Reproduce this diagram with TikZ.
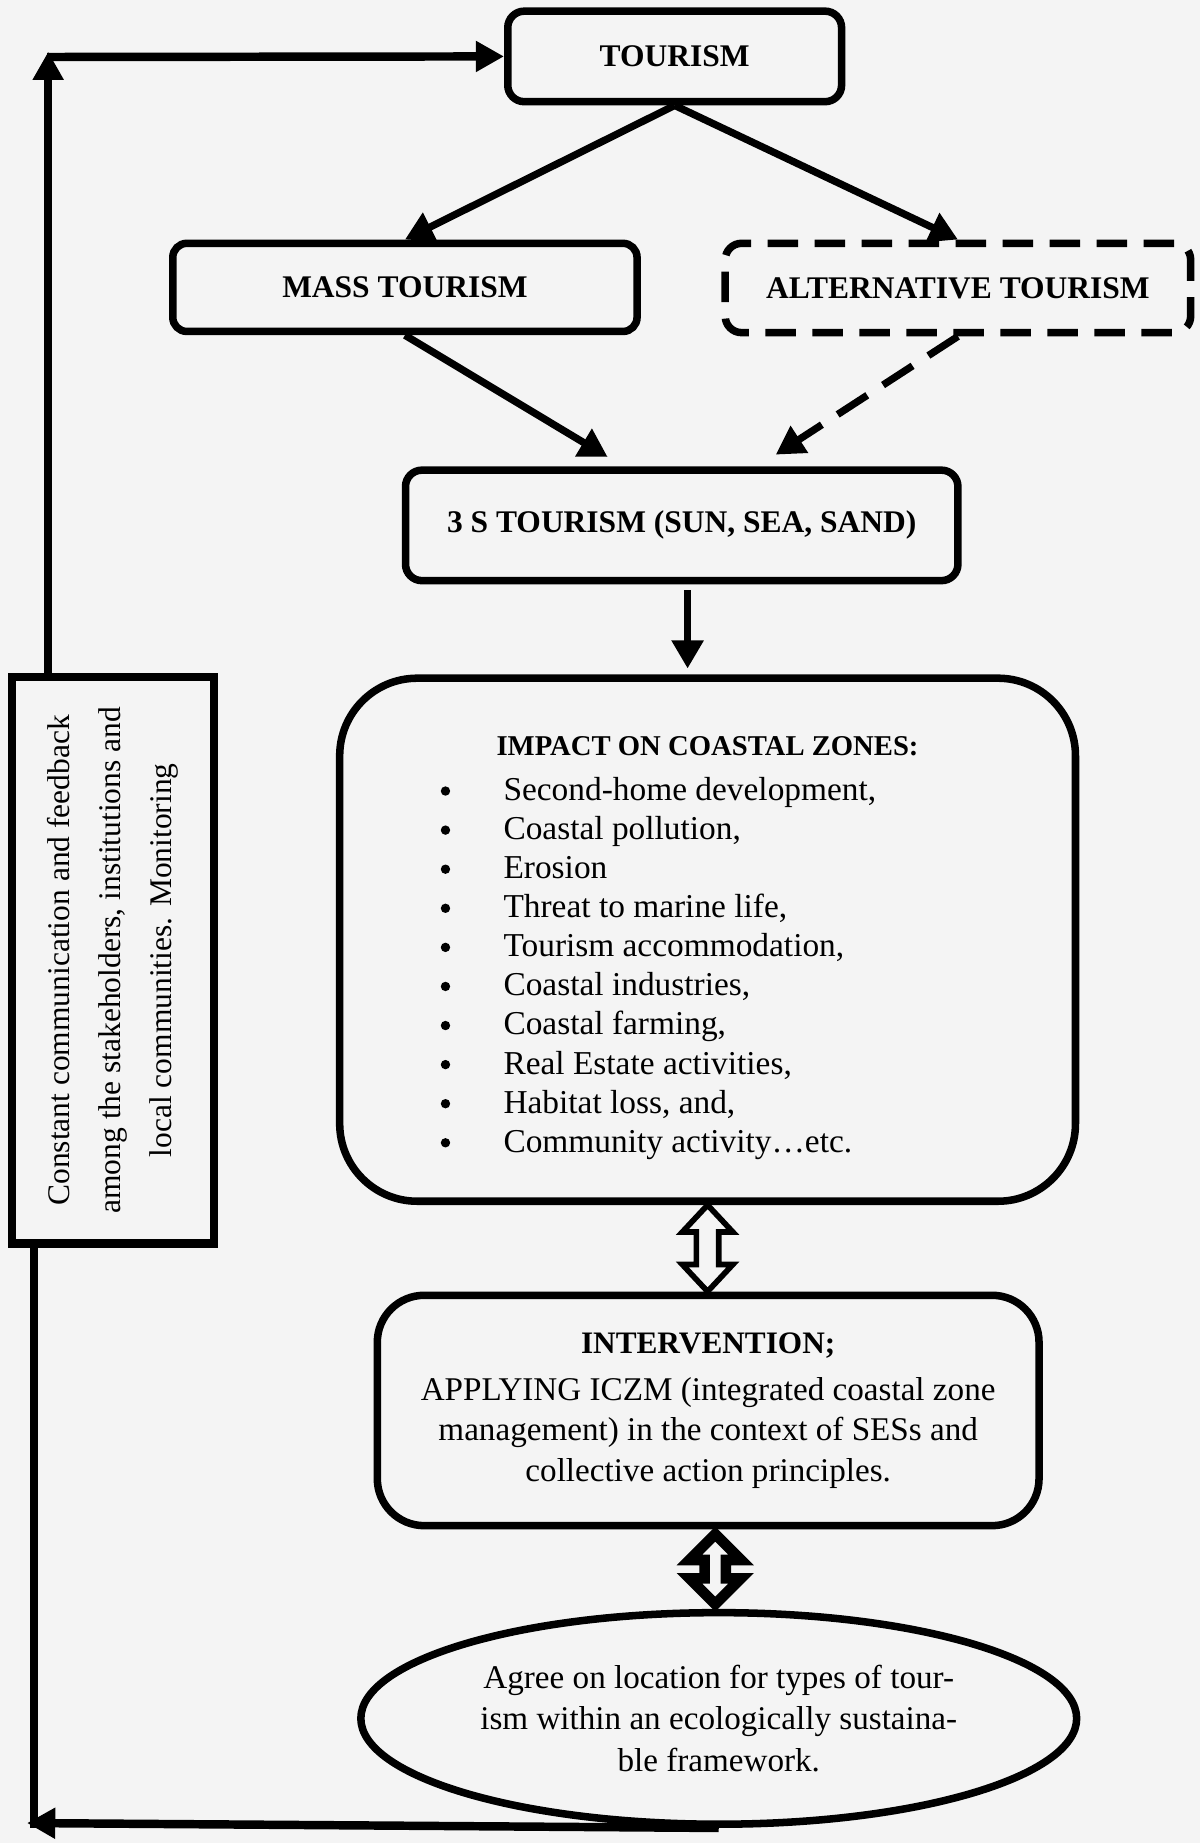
\documentclass[tikz,border=0pt]{standalone}
\usepackage{fontspec}
\setmainfont{Liberation Serif}
\usetikzlibrary{arrows.meta,calc,shapes.geometric}
\definecolor{bgc}{RGB}{244,244,244}
\tikzset{
  box/.style={draw, line width=3.2pt, rounded corners=7pt, inner sep=0pt, align=center},
  arr/.style={line width=3.1pt, -{Triangle[length=12pt,width=13pt]}},
  looparr/.style={line width=3.6pt, -{Triangle[length=12pt,width=12.5pt]}},
  plain/.style={line width=3.6pt},
  dbl/.style={draw, line width=2.4pt, fill=bgc, line join=miter},
  dblthick/.style={draw, line width=4.5pt, fill=bgc, line join=miter},
  ttl/.style={font=\fontsize{13.4}{16}\selectfont\bfseries},
  txt/.style={font=\fontsize{14.2}{16}\selectfont},
  bulletdot/.style={circle, fill=black, inner sep=0pt, minimum size=4pt},
}
\begin{document}
\begin{tikzpicture}[x=0.5pt,y=-0.5pt]
\fill[bgc] (0,0) rectangle (1021,1568);
\useasboundingbox (0,0) rectangle (1021,1568);

% main boxes
\node[box, ttl, minimum width=142pt, minimum height=38.5pt] (tour) at (574,48) {TOURISM};
\node[box, ttl, rounded corners=6pt, minimum width=197.5pt, minimum height=37.5pt] (mass) at (344.5,244.5) {MASS TOURISM};
\node[box, ttl, dash pattern=on 13pt off 7pt, minimum width=198pt, minimum height=38pt] (alt) at (815,245) {ALTERNATIVE TOURISM};
\node[box, ttl, minimum width=235pt, minimum height=47pt] (s3) at (580,447) {3 S TOURISM (SUN, SEA, SAND)};
\node[box, rounded corners=33pt, minimum width=313pt, minimum height=222.5pt] (impact) at (602,799.5) {};
\node[box, rounded corners=20pt, minimum width=281.5pt, minimum height=98pt, font=\fontsize{14.1}{17.25}\selectfont] (intv) at (602.5,1200)
  {{\fontsize{13.3}{17.25}\selectfont\bfseries INTERVENTION;}\\[2.75pt]APPLYING ICZM (integrated coastal zone\\management) in the context of SESs and\\collective action principles.};
\node[draw, ellipse, line width=3.2pt, inner sep=0pt, minimum width=304.5pt, minimum height=90pt, align=center, font=\fontsize{14.1}{17.5}\selectfont] (ell) at (611.5,1462)
  {Agree on location for types of tour-\\ism within an ecologically sustaina-\\ble framework.};
\node[draw, line width=3.6pt, rotate=90, inner sep=0pt, minimum width=241pt, minimum height=86pt, align=center, font=\fontsize{13.4}{21.5}\selectfont] (fb) at (96,817)
  {Constant communication and feedback\\among the stakeholders, institutions and\\local communities. Monitoring};

% impact content
\node[font=\fontsize{12.2}{16}\selectfont\bfseries] (imptitle) at (602,635) {IMPACT ON COASTAL ZONES:};
\foreach \t [count=\i] in {{Second-home development,},{Coastal pollution,},{Erosion},{Threat to marine life,},{Tourism accommodation,},{Coastal industries,},{Coastal farming,},{Real Estate activities,},{Habitat loss, and,},{Community activity\ldots etc.}}{
  \pgfmathsetmacro{\yy}{681+(\i-1)*33.25}
  \node[bulletdot] (bul\i) at (379,\yy-8) {};
  \node[txt, anchor=base west, inner sep=0pt] (item\i) at (428,\yy) {\t};
}

% connectors
\draw[arr] (tour.south) -- (mass.north);
\draw[arr] (tour.south) -- (alt.north);
\draw[arr] (mass.south) -- ($(s3.north)+(-63,-8)$);
\draw[arr, dash pattern=on 15pt off 8pt] (alt.south) -- ($(s3.north)+(80,-10)$);
\draw[arr] ($(s3.south)+(5,5)$) -- ($(impact.north)+(-17,-5)$);

% double arrows
\coordinate (t1) at (impact.south);
\coordinate (b1) at (t1 |- intv.north);
\path[dbl] (t1) -- ($(t1)+(21.5,23)$) -- ($(t1)+(9.5,23)$) -- ($(b1)+(9.5,-23)$) -- ($(b1)+(21.5,-23)$) -- (b1)
  -- ($(b1)+(-21.5,-23)$) -- ($(b1)+(-9.5,-23)$) -- ($(t1)+(-9.5,23)$) -- ($(t1)+(-21.5,23)$) -- cycle;
\coordinate (t2) at ($(intv.south)+(6,0)$);
\coordinate (b2) at (t2 |- ell.north);
\path[dblthick] ($(t2)+(0,4)$) -- ($(t2)+(22,26)$) -- ($(t2)+(9,26)$) -- ($(b2)+(9,-26)$) -- ($(b2)+(22,-26)$) -- ($(b2)+(0,-4)$)
  -- ($(b2)+(-22,-26)$) -- ($(b2)+(-9,-26)$) -- ($(t2)+(-9,26)$) -- ($(t2)+(-22,26)$) -- cycle;

% feedback loop
\coordinate (c1) at (41,44);
\coordinate (c1h) at (40,48.5);
\coordinate (c2) at (23,1551);
\coordinate (c2v) at (29,1555);
\draw[looparr] (fb.east -| c1) -- (c1);
\draw[looparr] (c1h) -- (tour.west);
\draw[plain] (fb.west -| c2v) -- (c2v);
\draw[looparr] (ell.south) -- (c2);
\end{tikzpicture}
\end{document}
